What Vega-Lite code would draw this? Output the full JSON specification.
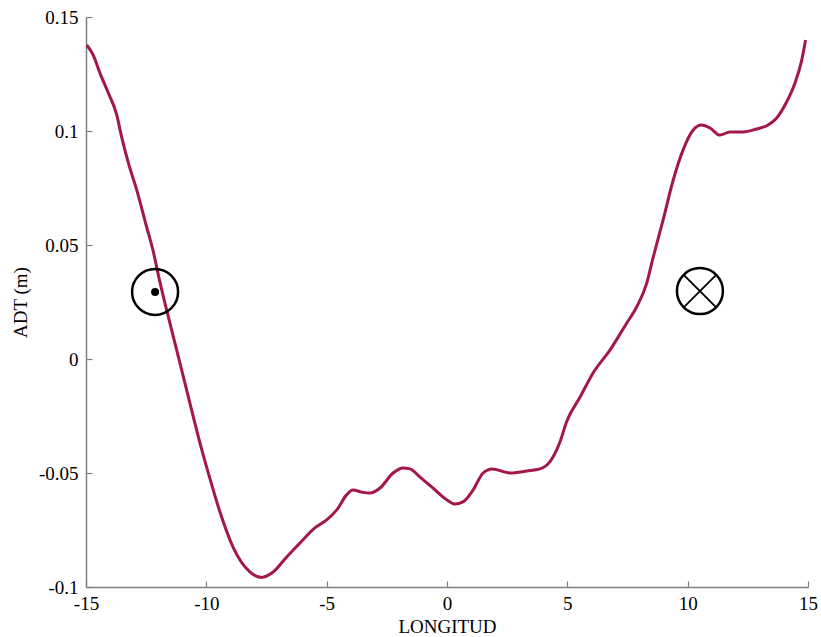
{
  "$schema": "https://vega.github.io/schema/vega-lite/v6.json",
  "width": 722,
  "height": 570,
  "autosize": {"type": "none"},
  "padding": {"left": 86, "top": 17, "right": 13, "bottom": 50},
  "background": "white",
  "config": {
    "view": {"stroke": null},
    "font": "Liberation Serif",
    "axis": {
      "grid": false,
      "domainColor": "#808080",
      "domainWidth": 1.5,
      "tickColor": "#808080",
      "tickWidth": 1.2,
      "labelFont": "Liberation Serif",
      "labelFontSize": 19,
      "labelColor": "black",
      "titleFont": "Liberation Serif",
      "titleFontSize": 19,
      "titleFontWeight": "normal",
      "titleColor": "black"
    }
  },
  "datasets": {
    "curve": [
      {"lon": -14.97, "adt": 0.1377},
      {"lon": -14.70, "adt": 0.1333},
      {"lon": -14.42, "adt": 0.1254},
      {"lon": -14.09, "adt": 0.1171},
      {"lon": -13.72, "adt": 0.1070},
      {"lon": -13.52, "adt": 0.0974},
      {"lon": -13.24, "adt": 0.0860},
      {"lon": -12.89, "adt": 0.0741},
      {"lon": -12.48, "adt": 0.0579},
      {"lon": -12.22, "adt": 0.0478},
      {"lon": -11.93, "adt": 0.0338},
      {"lon": -11.65, "adt": 0.0215},
      {"lon": -11.23, "adt": 0.0039},
      {"lon": -10.68, "adt": -0.0195},
      {"lon": -10.26, "adt": -0.0370},
      {"lon": -9.85, "adt": -0.0525},
      {"lon": -9.43, "adt": -0.0672},
      {"lon": -8.89, "adt": -0.0825},
      {"lon": -8.19, "adt": -0.0934},
      {"lon": -7.70, "adt": -0.0958},
      {"lon": -7.28, "adt": -0.0939},
      {"lon": -6.66, "adt": -0.0868},
      {"lon": -6.11, "adt": -0.0807},
      {"lon": -5.49, "adt": -0.0741},
      {"lon": -5.00, "adt": -0.0706},
      {"lon": -4.58, "adt": -0.0662},
      {"lon": -4.17, "adt": -0.0596},
      {"lon": -3.91, "adt": -0.0575},
      {"lon": -3.50, "adt": -0.0585},
      {"lon": -3.20, "adt": -0.0588},
      {"lon": -2.78, "adt": -0.0566},
      {"lon": -2.24, "adt": -0.0500},
      {"lon": -1.83, "adt": -0.0478},
      {"lon": -1.54, "adt": -0.0482},
      {"lon": -1.12, "adt": -0.0518},
      {"lon": -0.58, "adt": -0.0566},
      {"lon": 0.00, "adt": -0.0618},
      {"lon": 0.33, "adt": -0.0636},
      {"lon": 0.66, "adt": -0.0627},
      {"lon": 1.08, "adt": -0.0575},
      {"lon": 1.50, "adt": -0.0500},
      {"lon": 1.87, "adt": -0.0482},
      {"lon": 2.62, "adt": -0.0500},
      {"lon": 3.32, "adt": -0.0491},
      {"lon": 3.86, "adt": -0.0482},
      {"lon": 4.28, "adt": -0.0450},
      {"lon": 4.69, "adt": -0.0365},
      {"lon": 4.97, "adt": -0.0275},
      {"lon": 5.53, "adt": -0.0167},
      {"lon": 6.07, "adt": -0.0061},
      {"lon": 6.77, "adt": 0.0039},
      {"lon": 7.47, "adt": 0.0158},
      {"lon": 7.88, "adt": 0.0228},
      {"lon": 8.30, "adt": 0.0333},
      {"lon": 8.56, "adt": 0.0443},
      {"lon": 8.98, "adt": 0.0610},
      {"lon": 9.40, "adt": 0.0785},
      {"lon": 9.81, "adt": 0.0917},
      {"lon": 10.23, "adt": 0.1004},
      {"lon": 10.58, "adt": 0.1026},
      {"lon": 10.93, "adt": 0.1013},
      {"lon": 11.34, "adt": 0.0982},
      {"lon": 11.76, "adt": 0.0996},
      {"lon": 12.30, "adt": 0.0996},
      {"lon": 12.87, "adt": 0.1009},
      {"lon": 13.34, "adt": 0.1026},
      {"lon": 13.70, "adt": 0.1057},
      {"lon": 14.11, "adt": 0.1127},
      {"lon": 14.46, "adt": 0.1211},
      {"lon": 14.74, "adt": 0.1311},
      {"lon": 14.90, "adt": 0.1399}
    ],
    "symbols": [
      {"lon": -12.13, "adt": 0.0294, "kind": "out"},
      {"lon": 10.51, "adt": 0.0298, "kind": "in"}
    ]
  },
  "layer": [
    {
      "data": {"name": "curve"},
      "mark": {"type": "line", "color": "#a3174a", "strokeWidth": 3, "interpolate": "monotone"},
      "encoding": {
        "x": {
          "field": "lon", "type": "quantitative",
          "scale": {"domain": [-15, 15], "nice": false},
          "axis": {"values": [-15, -10, -5, 0, 5, 10, 15], "title": "LONGITUD", "tickSize": -6, "labelPadding": 13, "titlePadding": 4, "labelFlush": false, "labelExpr": "replace(datum.label, '\u2212', '-')"}
        },
        "y": {
          "field": "adt", "type": "quantitative",
          "scale": {"domain": [-0.1, 0.15], "nice": false, "zero": false},
          "axis": {"values": [-0.1, -0.05, 0, 0.05, 0.1, 0.15], "title": "ADT (m)", "tickSize": -6, "labelPadding": 14, "titlePadding": 8, "labelFlush": false, "format": "~g", "labelExpr": "replace(datum.label, '\u2212', '-')"}
        }
      }
    },
    {
      "data": {"name": "symbols"},
      "mark": {"type": "point", "shape": "circle", "size": 2116, "filled": false, "stroke": "black", "strokeWidth": 2.5, "opacity": 1},
      "encoding": {
        "x": {"field": "lon", "type": "quantitative"},
        "y": {"field": "adt", "type": "quantitative"}
      }
    },
    {
      "data": {"name": "symbols"},
      "transform": [{"filter": "datum.kind === 'out'"}],
      "mark": {"type": "point", "shape": "circle", "size": 64, "filled": true, "color": "black", "opacity": 1},
      "encoding": {
        "x": {"field": "lon", "type": "quantitative"},
        "y": {"field": "adt", "type": "quantitative"}
      }
    },
    {
      "data": {"name": "symbols"},
      "transform": [{"filter": "datum.kind === 'in'"}],
      "mark": {"type": "point", "shape": "M -0.707 -0.707 L 0.707 0.707 M -0.707 0.707 L 0.707 -0.707", "size": 2116, "filled": false, "stroke": "black", "strokeWidth": 1.8, "opacity": 1},
      "encoding": {
        "x": {"field": "lon", "type": "quantitative"},
        "y": {"field": "adt", "type": "quantitative"}
      }
    }
  ]
}
